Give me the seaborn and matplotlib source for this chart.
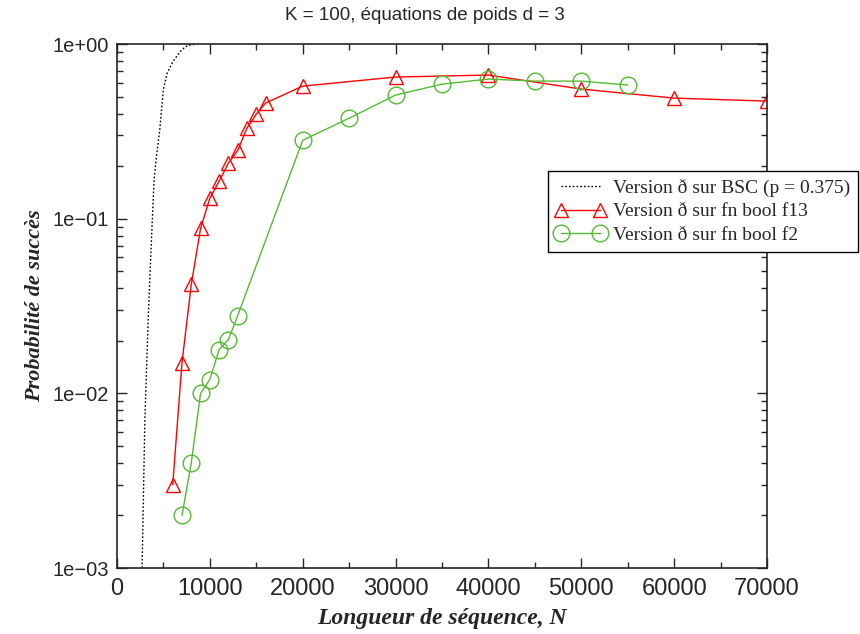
import numpy as np
import pandas as pd
import seaborn as sns
import matplotlib.pyplot as plt
from matplotlib.ticker import MultipleLocator, LogLocator, NullFormatter

# BSC curve
bsc_n = [2700, 3000, 3350, 3750, 4000, 4300, 4600, 5000, 5400, 6000, 6500, 7000, 7600, 8600]
bsc_p = [0.001, 0.007, 0.026, 0.085, 0.17, 0.24, 0.32, 0.55, 0.68, 0.79, 0.86, 0.93,
         0.98, 1.0]

# fn bool f13
f13_n = [6000, 7000, 8000, 9000, 10000, 11000, 12000, 13000, 14000, 15000, 16000,
         20000, 30000, 40000, 50000, 60000, 70000]
f13_p = [0.003, 0.015, 0.042, 0.088, 0.131, 0.164, 0.208, 0.246, 0.33, 0.397, 0.459,
         0.574, 0.647, 0.664, 0.552, 0.490, 0.471]

# fn bool f2
f2_n = [7000, 8000, 9000, 10000, 11000, 12000, 13000, 20000, 25000, 30000, 35000,
        40000, 45000, 50000, 55000]
f2_p = [0.002, 0.004, 0.010, 0.012, 0.0178, 0.0203, 0.0279, 0.281, 0.376, 0.51,
        0.589, 0.63, 0.613, 0.613, 0.582]

ytick_vals = [1e-3, 1e-2, 1e-1, 1e0]
ytick_labels = ['1e\u221203', '1e\u221202', '1e\u221201', '1e+00']

sns.set_style('ticks')
plt.rcParams['font.family'] = ['Liberation Sans', 'DejaVu Sans']

fig = plt.figure(figsize=(8.6, 6.34), dpi=100)
ax = fig.add_axes([117 / 860, 1 - 568 / 634, 650 / 860, 524 / 634])

green = '#55bb33'
sns.lineplot(x=bsc_n, y=bsc_p, ax=ax, color='black', linestyle=(0, (1.2, 1.5)),
             linewidth=1.0, label='Version \u00f0 sur BSC (p = 0.375)')
sns.lineplot(x=f13_n, y=f13_p, ax=ax, color='red', linewidth=1.0, marker='^',
             markersize=10, markerfacecolor='none', markeredgecolor='red',
             markeredgewidth=1.0, label='Version \u00f0 sur fn bool f13')
sns.lineplot(x=f2_n, y=f2_p, ax=ax, color=green, linewidth=1.0, marker='o',
             markersize=12, markerfacecolor='none', markeredgecolor=green,
             markeredgewidth=1.0, label='Version \u00f0 sur fn bool f2')

ax.set_yscale('log')
ax.set_xlim(0, 70000)
ax.set_ylim(1e-3, 1)
ax.set_xticks(range(0, 70001, 10000))
ax.xaxis.set_minor_locator(MultipleLocator(5000))
ax.set_yticks(ytick_vals)
ax.set_yticklabels(ytick_labels)
ax.yaxis.set_minor_locator(LogLocator(base=10, subs=np.arange(2, 10)))
ax.yaxis.set_minor_formatter(NullFormatter())
ax.tick_params(which='both', direction='in', top=True, right=True, width=1.0)
ax.tick_params(axis='x', labelsize=17, pad=7)
ax.tick_params(axis='y', labelsize=14.5, pad=6)
ax.tick_params(which='major', length=7)
ax.tick_params(which='minor', length=4)
for s in ax.spines.values():
    s.set_linewidth(1.2)

ax.set_title('K = 100, \u00e9quations de poids d = 3', fontsize=13.5, pad=17,
             x=0.474)
ax.set_xlabel('Longueur de s\u00e9quence, N', fontsize=17, fontweight='bold',
              fontstyle='italic', family='Liberation Serif', labelpad=6)
ax.set_ylabel('Probabilit\u00e9 de succ\u00e8s', fontsize=16, fontweight='bold',
              fontstyle='italic', family='Liberation Serif', labelpad=5)

leg = ax.legend(loc='upper right', bbox_to_anchor=(858 / 860, 1 - 171 / 634),
                bbox_transform=fig.transFigure, borderaxespad=0, frameon=True,
                fancybox=False, edgecolor='black', framealpha=1, numpoints=2,
                handlelength=2.6, borderpad=0.4, labelspacing=0.3,
                handletextpad=0.35,
                prop={'family': 'Liberation Serif', 'size': 14})
leg.get_frame().set_linewidth(1.0)

fig.savefig('out.png', dpi=100)
